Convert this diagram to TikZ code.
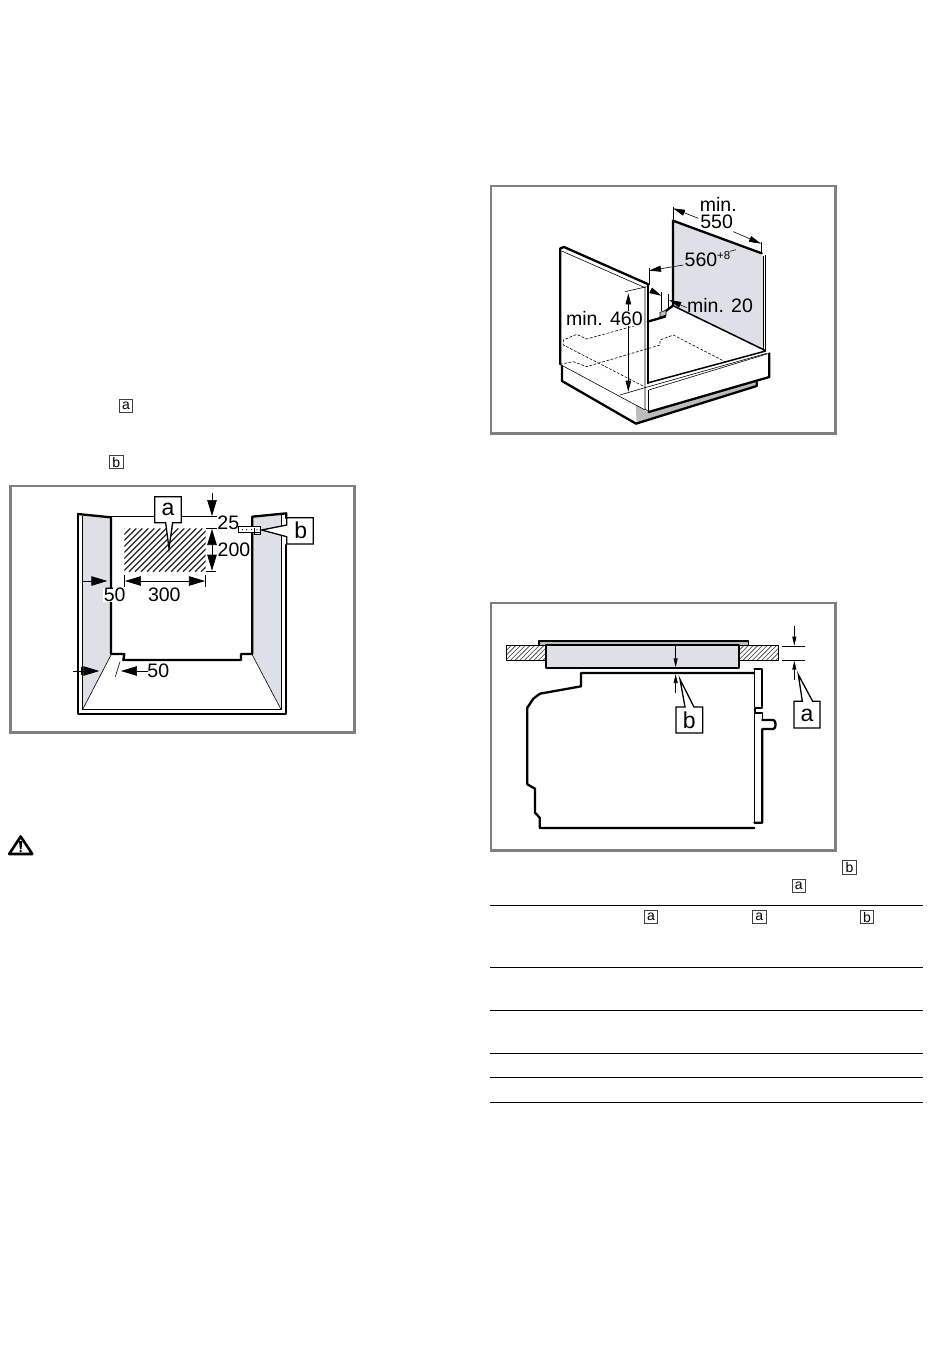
\documentclass[tikz,border=0pt]{standalone}
\usepackage{fontspec}
\setmainfont{Liberation Sans}
\usetikzlibrary{arrows.meta}
\definecolor{panelgray}{HTML}{DDE0E6}
\definecolor{basegray}{HTML}{B9BDBD}
\definecolor{framegray}{HTML}{808080}
\tikzset{
  frameline/.style={draw=framegray,line width=2.4pt},
  heavy/.style={line width=2.3pt,line join=round,line cap=round},
  medium/.style={line width=1.5pt,line join=round},
  fine/.style={line width=0.6pt},
  dashline/.style={line width=0.6pt,dash pattern=on 2.8pt off 1.6pt},
  bighead/.style={-{Triangle[length=16pt,width=9.5pt]},line width=0.7pt},
  bigboth/.style={{Triangle[length=16pt,width=9.5pt]}-{Triangle[length=16pt,width=9.5pt]},line width=0.7pt},
  midhead/.style={-{Triangle[length=12pt,width=6pt]},line width=0.6pt},
  midboth/.style={{Triangle[length=11pt,width=5.5pt]}-{Triangle[length=11pt,width=5.5pt]},line width=0.6pt},
  smallhead/.style={-{Triangle[length=9pt,width=4pt]},line width=0.6pt},
  dimtext/.style={font=\fontsize{19.5}{20}\selectfont,inner sep=0.5pt,text=black},
  calltext/.style={font=\fontsize{23}{23}\selectfont,inner sep=0pt,text=black},
  callout/.style={draw=black,fill=white,line width=1.3pt,line join=miter},
  keybox/.style={draw=black!75,fill=white,line width=0.9pt,minimum width=13.5pt,minimum height=13.5pt,inner sep=0pt,font=\fontsize{14}{14}\selectfont},
  tablerule/.style={line width=1pt},
  fig/.style={x=0.33333pt,y=-0.33333pt}
}
\begin{document}
\begin{tikzpicture}[x=1pt,y=-1pt]
\useasboundingbox (0,0) rectangle (950,1369);
\fill[white] (0,0) rectangle (950,1369);

% ---------- key labels in text
\node[keybox] (ka1) at (126,406) {a};
\node[keybox] (kb1) at (116.3,462) {b};
\node[keybox] (kb2) at (849.5,867.6) {b};
\node[keybox] (ka2) at (798.8,885.8) {a};
\node[keybox] (ka3) at (651,917) {a};
\node[keybox] (ka4) at (759.3,917) {a};
\node[keybox] (kb3) at (867,917) {b};

% ---------- table rules
\foreach \yy in {905.3,967.3,1010.3,1053.3,1077.3,1102.3}
  \draw[tablerule] (490,\yy) -- (923,\yy);

% ---------- warning triangle
\draw[line width=2.6pt,line join=round] (20.7,836.5) -- (32.3,854) -- (9.2,854) -- cycle;
\fill (19,841) -- (22.4,841) -- (21.5,849) -- (19.9,849) -- cycle;
\fill (20.7,851) circle (1.3pt);

% ================= FIGURE 1 =================
\begin{scope}[xshift=10pt,yshift=-485pt,fig]
\draw[frameline] (1.5,3) rectangle (1033,743);
% gray side panels
\fill[panelgray] (218,92) -- (303,97) -- (303,510) -- (218,673) -- cycle;
\fill[panelgray] (727,95) -- (813,88) -- (813,673) -- (727,510) -- cycle;
% hatched area
\begin{scope}
\clip (343,130) rectangle (587,260);
\foreach \k in {0,18,...,420}
  \draw[line width=1.3pt,black!85] (343+\k-130,260) -- (343+\k,130);
\end{scope}
% cabinet
\draw[heavy] (203,87) -- (203,686) -- (829,686) -- (829,180);
\draw[heavy] (203,87) -- (303,97) -- (303,507) -- (343,507) -- (340,525) -- (693,525) -- (693,507) -- (727,507) -- (727,95) -- (829,85) -- (829,100);
\draw[fine] (218,92) -- (218,673) -- (813,673) -- (813,90);
\draw[fine] (303,510) -- (218,673);
\draw[fine] (727,510) -- (813,673);
% extent lines
\draw[fine] (304,95) -- (622,95);
\draw[fine] (587,130) -- (625,130);
\draw[fine] (587,259) -- (618,259);
% dimensions
\draw[bighead] (606,25) -- (606,93);
\draw[bigboth] (606,132) -- (606,257);
\draw[bigboth] (345,288) -- (585,288);
\draw[fine] (344,270) -- (344,305);
\draw[fine] (586,270) -- (586,305);
\draw[bighead] (218,288) -- (292,288);
\draw[bighead] (190,558) -- (268,558);
\draw[fine] (215,547) -- (215,570);
\draw[bighead] (415,558) -- (333,558);
\draw[fine] (330,530) -- (316,575);
\node[dimtext,fill=white] (d50a) at (314,330) {50};
\node[dimtext] (d300) at (463,328) {300};
\node[dimtext] (d50b) at (445,558) {50};
\node[dimtext,fill=white] (d25) at (655,113) {25};
\node[dimtext] (d200) at (672,195) {200};
% bracket
\draw[fill=white,line width=0.7pt] (686,125) rectangle (750,143);
\draw[line width=0.7pt] (733,128) -- (733,149) -- (750,149) -- (750,143);
\foreach \xx in {697,710,725,741}
  \fill (\xx,134) circle (0.6pt);
% callouts
\draw[callout] (434,35) -- (514,35) -- (514,113) -- (488,113) -- (477,190) -- (467,113) -- (434,113) -- cycle;
\node[calltext] (ca1) at (474,73) {a};
\draw[callout] (830,98) -- (910,98) -- (910,177) -- (830,177) -- (830,155) -- (755,135) -- (830,120) -- cycle;
\node[calltext] (cb1) at (872,135) {b};
\end{scope}

% ================= FIGURE 2 =================
\begin{scope}[xshift=490pt,yshift=-185pt,fig]
\draw[frameline] (3,3) rectangle (1036,746);
% back panel
\fill[panelgray] (549,107) -- (820,212) -- (820,497) -- (549,362) -- cycle;
\draw[heavy] (549,362) -- (549,107) -- (815,205);
\draw[medium] (549,362) -- (827,497);
\draw[fine] (820,212) -- (820,497);
\draw[fine] (827,210) -- (827,497);
% base gray
\fill[basegray] (437,660) -- (475,683) -- (800,590) -- (800,605) -- (440,715) -- cycle;
% left panel
\draw[heavy] (473,297) -- (222,186) -- (211,190) -- (211,538);
\draw[fine] (215,198) -- (465,308);
\draw[heavy] (473,297) -- (473,595);
\draw[fine] (465,305) -- (465,672) -- (476,680);
\draw[heavy] (216,543) -- (216,588) -- (438,716) -- (800,603) -- (800,592);
\draw[fine] (210,538) -- (465,675);
\draw[fine] (390,630) -- (465,608);
% plinth
\draw[medium] (476,593) -- (827,498);
\draw[fine] (465,608) -- (830,505);
\draw[fine] (476,615) -- (837,505);
\draw[fine] (476,615) -- (476,680);
\draw[heavy] (476,681) -- (838,576) -- (838,505);
% dashed cut-outs
\draw[dashline] (460,415) -- (290,462) -- (260,448) -- (220,465) -- (220,480) -- (463,605);
\draw[dashline] (210,538) -- (250,530) -- (290,545) -- (510,480) -- (510,465) -- (550,450) -- (705,530);
% recess
\draw[heavy] (473,410) -- (525,395) -- (525,380) -- (549,362);
\draw[fine,fill=black!25] (510,382) -- (528,376) -- (528,390) -- (510,396) -- cycle;
\draw[fine] (515,320) -- (515,378);
\draw[fine] (535,328) -- (535,375);
% dimensions
\draw[fine] (549,65) -- (549,105);
\draw[fine] (815,172) -- (815,205);
\draw[midhead] (625,100) -- (549,70);
\draw[midhead] (730,140) -- (813,176);
\draw[fine] (477,250) -- (477,300);
\draw[midhead] (580,240) -- (477,257);
\draw[fine] (720,199) -- (738,194);
\draw[midhead] (490,320) -- (514,332);
\draw[midhead] (590,368) -- (538,345);
\draw[fine] (405,320) -- (470,305);
\draw[midboth] (415,325) -- (415,620);
\node[dimtext] (t1) at (685,57) {min.};
\node[dimtext] (t2) at (680,110) {550};
\node[dimtext,anchor=west] (t3) at (582,222) {560\raisebox{7pt}{\fontsize{11.5}{12}\selectfont +8}};
\node[dimtext,fill=white] (t4) at (343,400) {min. 460};
\node[dimtext] (t5) at (690,362) {min. 20};
\end{scope}

% ================= FIGURE 3 =================
\begin{scope}[xshift=490pt,yshift=-602pt,fig]
\draw[frameline] (3,3) rectangle (1036,746);
% worktop
\begin{scope}
\clip (50,130) rectangle (168,175);
\foreach \k in {0,14,...,180}
  \draw[line width=0.6pt,black!80] (50+\k-45,175) -- (50+\k,130);
\end{scope}
\begin{scope}
\clip (748,130) rectangle (865,175);
\foreach \k in {0,14,...,180}
  \draw[line width=0.6pt,black!80] (748+\k-45,175) -- (748+\k,130);
\end{scope}
\draw[medium] (50,130) rectangle (168,175);
\draw[medium] (748,130) rectangle (865,175);
% hob
\draw[medium,fill=basegray] (147,130) -- (147,117) -- (775,117) -- (775,130) -- cycle;
\draw[heavy,fill=panelgray] (168,130) rectangle (748,197);
% oven
\draw[heavy] (793,213) -- (273,213) -- (273,253) -- (150,275) -- (130,290) -- (112,317) -- (112,547) -- (135,560) -- (135,632) -- (149,647) -- (149,678) -- (793,678);
\draw[heavy] (793,202) -- (817,202) -- (817,317) -- (795,317) -- (795,332) -- (817,332);
\draw[medium] (793,202) -- (793,315);
\draw[medium] (793,334) -- (793,662);
\draw[fine] (817,332) -- (817,353);
\draw[heavy] (817,354) -- (850,354) .. controls (859,354) and (859,381) .. (850,381) -- (817,381) -- (817,662) -- (793,662);
% dimensions
\draw[smallhead] (557,133) -- (557,196);
\draw[smallhead] (557,272) -- (557,216);
\draw[fine] (877,132) -- (945,132);
\draw[fine] (877,175) -- (945,175);
\draw[smallhead] (913,72) -- (913,131);
\draw[smallhead] (913,233) -- (913,176);
% callouts
\draw[callout] (558,315) -- (585,315) -- (570,232) -- (612,315) -- (638,315) -- (638,393) -- (558,393) -- cycle;
\node[calltext] (cb2) at (598,354) {b};
\draw[callout] (912,298) -- (937,298) -- (925,218) -- (968,298) -- (990,298) -- (990,378) -- (912,378) -- cycle;
\node[calltext] (ca2) at (951,340) {a};
\end{scope}
\end{tikzpicture}
\end{document}
